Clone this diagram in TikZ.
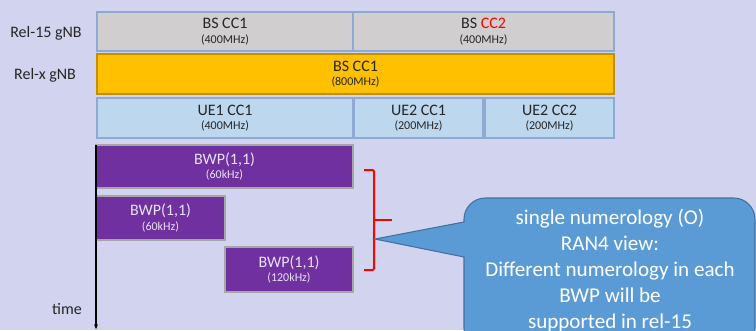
\documentclass[tikz,border=0pt]{standalone}
\usepackage{fontspec}
\setmainfont{Carlito}
\usepackage{xcolor}
\usepackage{tikz}
\usetikzlibrary{arrows.meta}

\definecolor{bgcol}{RGB}{210,211,239}
\definecolor{rel15col}{RGB}{208,206,206}
\definecolor{relxcol}{RGB}{255,192,0}
\definecolor{uecol}{RGB}{189,215,238}
\definecolor{bwpcol}{RGB}{112,48,160}
\definecolor{bwptext}{RGB}{232,226,242}
\definecolor{boxline}{RGB}{143,170,210}
\definecolor{callcol}{RGB}{91,155,213}
\definecolor{callline}{RGB}{65,113,156}

\newcommand{\cctext}[2]{#1\\[-2pt]{\fontsize{9}{10}\selectfont(#2)}}

\tikzset{
    ccbox/.style={draw=boxline, line width=0.8pt, inner sep=0pt, align=center,
        font=\fontsize{12}{13}\selectfont, text=black!85},
    bwpbox/.style={ccbox, draw=gray!70, fill=bwpcol, text=bwptext},
    rowlabel/.style={font=\fontsize{12}{13}\selectfont, text=black!85}
}

\begin{document}
\begin{tikzpicture}[x=0.75pt, y=-0.75pt]
    \fill[bgcol] (0,0) rectangle (756,330);
    \useasboundingbox (0,0) rectangle (756,330);
    \clip (0,0) rectangle (756,330);

    % Carriers
    \node[rowlabel] (l15) at (46,33) {Rel-15 gNB};
    \node[ccbox, fill=rel15col, minimum width=192pt, minimum height=29.25pt] (bs1) at (225,31.5) {\cctext{BS CC1}{400MHz}};
    \node[ccbox, fill=rel15col, minimum width=195.75pt, minimum height=29.25pt] (bs2) at (483.5,31.5) {\cctext{BS \textcolor{red}{CC2}}{400MHz}};
    \node[rowlabel] (lx) at (45,75) {Rel-x gNB};
    \node[ccbox, draw=relxcol!75!black, fill=relxcol, minimum width=387.75pt, minimum height=30pt] (bsx) at (355.5,74) {\cctext{BS CC1}{800MHz}};
    \node[ccbox, fill=uecol, minimum width=192pt, minimum height=30pt] (ue1) at (225,118) {\cctext{UE1 CC1}{400MHz}};
    \node[ccbox, fill=uecol, minimum width=96.75pt, minimum height=30pt] (ue2a) at (418.5,118) {\cctext{UE2 CC1}{200MHz}};
    \node[ccbox, fill=uecol, minimum width=96.75pt, minimum height=30pt] (ue2b) at (549.5,118) {\cctext{UE2 CC2}{200MHz}};

    % BWPs
    \node[bwpbox, minimum width=192.75pt, minimum height=32.25pt] (bwp1) at (224.5,166.5) {\cctext{BWP(1,1)}{60kHz}};
    \node[bwpbox, minimum width=96.75pt, minimum height=33pt] (bwp2) at (160.5,218) {\cctext{BWP(1,1)}{60kHz}};
    \node[bwpbox, minimum width=96pt, minimum height=33.75pt] (bwp3) at (289,269.5) {\cctext{BWP(1,1)}{120kHz}};

    % Time axis
    \coordinate (t0) at (96,145);
    \coordinate (t1) at (96,330);
    \draw[line width=0.8pt, -{Latex[length=4pt,width=3pt]}] (t0) -- (t1);
    \node[rowlabel] (tl) at (67,309) {time};

    % Bracket
    \draw[red, line width=1.5pt, rounded corners=1pt] (364,170) -- (374,170) -- (374,270) -- (364,270);
    \draw[red, line width=1.5pt] (374,220) -- (392,220);

    % Callout
    \draw[fill=callcol, draw=callline, line width=0.8pt] (464,222) [rounded corners=16] -- (464,198) -- (755,198) -- (755,350) -- (464,350) [sharp corners] -- (464,257) -- (375,239) -- cycle;
    \node[align=center, text=white, font=\fontsize{15.8}{19.5}\selectfont] (note) at (610,270)
        {single numerology (O)\\RAN4 view:\\Different numerology in each\\BWP will be\\supported in rel-15};
\end{tikzpicture}
\end{document}
